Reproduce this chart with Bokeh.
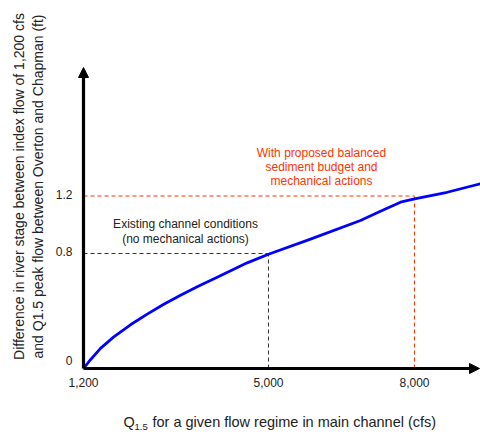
import math
from bokeh.plotting import figure
from bokeh.models import Range1d, Arrow, NormalHead
from bokeh.core.properties import value
from bokeh.embed import file_html
from bokeh.resources import INLINE

# ---- data ----
flow_cfs = [1200, 1344, 1549, 1822, 2165, 2509, 2850, 3193, 3536, 3946, 4563, 5000,
            5863, 6890, 7300, 7712, 8000, 8671, 9355]
stage_ft = [0.0, 0.061, 0.140, 0.220, 0.304, 0.378, 0.447, 0.510, 0.568, 0.635, 0.735, 0.795,
            0.90, 1.03, 1.094, 1.157, 1.18, 1.226, 1.285]

x_ticks = [1200, 5000, 8000]
x_tick_labels = ["1,200", "5,000", "8,000"]
y_ticks = [0, 0.8, 1.2]
y_tick_labels = ["0", "0.8", "1.2"]

existing_q, existing_stage = 5000, 0.8
proposed_q, proposed_stage = 8000, 1.2

# ---- layout: the frame covers the whole canvas ----
W, H = 480, 435
AX_LEFT_PX, AX_BOTTOM_PX = 83, 368
X_PER_PX = 1 / 0.04868
Y_PER_PX = 1 / 143.75
X_ORIGIN = x_ticks[0]
x_start = X_ORIGIN - AX_LEFT_PX * X_PER_PX
x_end = X_ORIGIN + (W - AX_LEFT_PX) * X_PER_PX
y_start = -(H - AX_BOTTOM_PX) * Y_PER_PX
y_end = AX_BOTTOM_PX * Y_PER_PX
y_axis_top = (AX_BOTTOM_PX - 67) * Y_PER_PX
x_axis_end = X_ORIGIN + (479 - AX_LEFT_PX) * X_PER_PX

FONT = value("Liberation Sans")
RED = "#ff3300"
BLUE = "#0000ff"
DARK = "#222222"

p = figure(width=W, height=H, output_backend="svg", toolbar_location=None,
           x_range=Range1d(x_start, x_end), y_range=Range1d(y_start, y_end),
           x_axis_type=None, y_axis_type=None,
           min_border=0, min_border_left=0, min_border_right=0,
           min_border_top=0, min_border_bottom=0)
p.outline_line_color = None
p.xgrid.visible = False
p.ygrid.visible = False
p.background_fill_color = "white"
p.border_fill_color = "white"

def px2x(px):
    return x_start + px * X_PER_PX

def py2y(py):
    return (AX_BOTTOM_PX - py) * Y_PER_PX

# reference dashed lines
p.line([X_ORIGIN, existing_q], [existing_stage, existing_stage], line_color="#333333", line_dash="4 3", line_width=1)
p.line([existing_q, existing_q], [0, existing_stage], line_color="#333333", line_dash="4 3", line_width=1)
p.line([X_ORIGIN, proposed_q], [proposed_stage, proposed_stage], line_color=RED, line_dash="4 3", line_width=1)
p.line([proposed_q, proposed_q], [0, proposed_stage], line_color=RED, line_dash="4 3", line_width=1)

# curve
p.line(flow_cfs, stage_ft, line_color=BLUE, line_width=2.8, line_join="round")

# axes with arrow heads
p.add_layout(Arrow(end=NormalHead(size=10, fill_color="black", line_color="black", line_width=1),
                   x_start=X_ORIGIN, y_start=0, x_end=X_ORIGIN, y_end=y_axis_top,
                   line_width=3.2, line_color="black"))
p.add_layout(Arrow(end=NormalHead(size=10, fill_color="black", line_color="black", line_width=1),
                   x_start=X_ORIGIN, y_start=0, x_end=x_axis_end, y_end=0,
                   line_width=3.2, line_color="black"))

# tick labels
p.text(x=x_ticks, y=[0] * len(x_ticks), text=x_tick_labels, text_font=FONT, text_font_size="12px",
       text_color=DARK, text_align="center", text_baseline="middle", y_offset=14)
for t, lab in zip(y_ticks, y_tick_labels):
    p.text(x=[X_ORIGIN], y=[t], text=[lab], text_font=FONT, text_font_size="12px",
           text_color=DARK, text_align="right", text_baseline="middle",
           x_offset=-11, y_offset=(-8 if t == 0 else -2))

def add_text(txt, px, py, size="12px", color=DARK, align="center", angle=0.0):
    p.text(x=[px2x(px)], y=[py2y(py)], text=[txt], text_font=FONT, text_font_size=size,
           text_color=color, text_align=align, text_baseline="middle", angle=angle)

add_text("Difference in river stage between index flow of 1,200 cfs", 18, 186, size="14px", angle=math.pi / 2)
add_text("and Q1.5 peak flow between Overton and Chapman (ft)", 37, 186, size="14px", angle=math.pi / 2)

add_text("Q", 123, 421, size="14.5px", align="left")
add_text("1.5", 134, 426, size="9.5px", align="left")
add_text("for a given flow regime in main channel (cfs)", 152, 421, size="14.5px", align="left")

add_text("Existing channel conditions", 185, 223)
add_text("(no mechanical actions)", 185, 238)

add_text("With proposed balanced", 321, 152, color=RED)
add_text("sediment budget and", 321, 166, color=RED)
add_text("mechanical actions", 321, 180, color=RED)

open("out.html", "w").write(file_html(p, INLINE))
